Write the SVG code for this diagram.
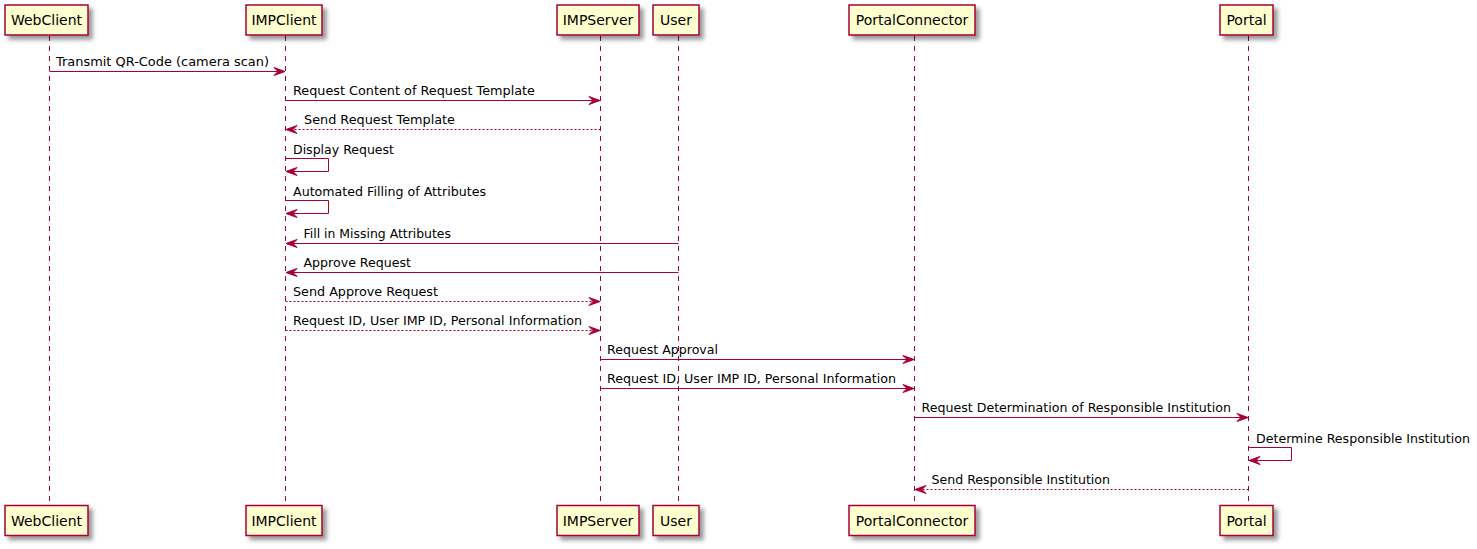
<svg xmlns="http://www.w3.org/2000/svg" width="1477" height="549" viewBox="0 0 1477 549">
<defs>
<filter id="sh" x="-1" y="-1" width="300%" height="300%">
<feGaussianBlur in="SourceAlpha" result="b" stdDeviation="2"/>
<feColorMatrix in="b" result="c" type="matrix" values="0 0 0 0 0 0 0 0 0 0 0 0 0 0 0 0 0 0 0.4 0"/>
<feOffset in="c" result="o" dx="4" dy="4"/>
<feBlend in="SourceGraphic" in2="o" mode="normal"/>
</filter>
<marker id="ah" viewBox="-1 -1 13 11" refX="11" refY="4.5" markerWidth="13" markerHeight="11" markerUnits="userSpaceOnUse" orient="auto">
<polygon points="0,0.5 11,4.5 0,8.5 4,4.5" fill="#A80036" stroke="#A80036" stroke-width="1" stroke-linejoin="miter"/>
</marker>
</defs>
<style>
.box{fill:#FEFECE;stroke:#A80036;stroke-width:1.5;filter:url(#sh)}
.pn{font-family:"DejaVu Sans",sans-serif;font-size:14px;fill:#000;text-anchor:middle}
.life{stroke:#A80036;stroke-width:1;stroke-dasharray:5,5;fill:none}
.msg{stroke:#A80036;stroke-width:1;fill:none;marker-end:url(#ah)}
.dash{stroke-dasharray:2,2}
.lbl{font-family:"DejaVu Sans",sans-serif;font-size:13px;fill:#000}
</style>
<rect width="1477" height="549" fill="#FFFFFF"/>
<g id="lifelines">
<line class="life" x1="49.5" y1="36" x2="49.5" y2="505"/>
<line class="life" x1="285.5" y1="36" x2="285.5" y2="505"/>
<line class="life" x1="600.5" y1="36" x2="600.5" y2="505"/>
<line class="life" x1="678.5" y1="36" x2="678.5" y2="505"/>
<line class="life" x1="914.5" y1="36" x2="914.5" y2="505"/>
<line class="life" x1="1248.5" y1="36" x2="1248.5" y2="505"/>
</g>
<g id="WebClient">
<rect class="box" x="5" y="5" width="83" height="30"/><text class="pn" x="46.5" y="25">WebClient</text>
<rect class="box" x="5" y="505.5" width="83" height="30"/><text class="pn" x="46.5" y="525.5">WebClient</text>
</g>
<g id="IMPClient">
<rect class="box" x="246" y="5" width="76" height="30"/><text class="pn" x="284" y="25">IMPClient</text>
<rect class="box" x="246" y="505.5" width="76" height="30"/><text class="pn" x="284" y="525.5">IMPClient</text>
</g>
<g id="IMPServer">
<rect class="box" x="557" y="5" width="82" height="30"/><text class="pn" x="598" y="25">IMPServer</text>
<rect class="box" x="557" y="505.5" width="82" height="30"/><text class="pn" x="598" y="525.5">IMPServer</text>
</g>
<g id="User">
<rect class="box" x="653" y="5" width="46" height="30"/><text class="pn" x="676" y="25">User</text>
<rect class="box" x="653" y="505.5" width="46" height="30"/><text class="pn" x="676" y="525.5">User</text>
</g>
<g id="PortalConnector">
<rect class="box" x="849" y="5" width="126" height="30"/><text class="pn" x="912" y="25">PortalConnector</text>
<rect class="box" x="849" y="505.5" width="126" height="30"/><text class="pn" x="912" y="525.5">PortalConnector</text>
</g>
<g id="Portal">
<rect class="box" x="1220" y="5" width="53" height="30"/><text class="pn" x="1246.5" y="25">Portal</text>
<rect class="box" x="1220" y="505.5" width="53" height="30"/><text class="pn" x="1246.5" y="525.5">Portal</text>
</g>
<g id="connectors">
<line class="msg" x1="49.5" y1="71.5" x2="285" y2="71.5"/>
<text class="lbl" x="56" y="66" textLength="213" lengthAdjust="spacingAndGlyphs">Transmit QR-Code (camera scan)</text>
<line class="msg" x1="285.5" y1="100.5" x2="600" y2="100.5"/>
<text class="lbl" x="293" y="95" textLength="242" lengthAdjust="spacingAndGlyphs">Request Content of Request Template</text>
<line class="msg dash" x1="600.5" y1="129.5" x2="286" y2="129.5"/>
<text class="lbl" x="304" y="124" textLength="151" lengthAdjust="spacingAndGlyphs">Send Request Template</text>
<polyline class="msg" points="286,158.5 328.5,158.5 328.5,171.5 286,171.5"/>
<text class="lbl" x="293" y="154" textLength="101" lengthAdjust="spacingAndGlyphs">Display Request</text>
<polyline class="msg" points="286,200.5 328.5,200.5 328.5,213.5 286,213.5"/>
<text class="lbl" x="293" y="196" textLength="193" lengthAdjust="spacingAndGlyphs">Automated Filling of Attributes</text>
<line class="msg" x1="678.5" y1="243.5" x2="286" y2="243.5"/>
<text class="lbl" x="303.5" y="238" textLength="147.5" lengthAdjust="spacingAndGlyphs">Fill in Missing Attributes</text>
<line class="msg" x1="678.5" y1="272.5" x2="286" y2="272.5"/>
<text class="lbl" x="303.5" y="267" textLength="107.5" lengthAdjust="spacingAndGlyphs">Approve Request</text>
<line class="msg dash" x1="285.5" y1="301.5" x2="600" y2="301.5"/>
<text class="lbl" x="293" y="296" textLength="145" lengthAdjust="spacingAndGlyphs">Send Approve Request</text>
<line class="msg dash" x1="285.5" y1="330.5" x2="600" y2="330.5"/>
<text class="lbl" x="293" y="325" textLength="289" lengthAdjust="spacingAndGlyphs">Request ID, User IMP ID, Personal Information</text>
<line class="msg" x1="600.5" y1="359.5" x2="914" y2="359.5"/>
<text class="lbl" x="607" y="354" textLength="111" lengthAdjust="spacingAndGlyphs">Request Approval</text>
<line class="msg" x1="600.5" y1="388.5" x2="914" y2="388.5"/>
<text class="lbl" x="607" y="383" textLength="289" lengthAdjust="spacingAndGlyphs">Request ID, User IMP ID, Personal Information</text>
<line class="msg" x1="914.5" y1="417.5" x2="1248" y2="417.5"/>
<text class="lbl" x="921.5" y="412" textLength="309.5" lengthAdjust="spacingAndGlyphs">Request Determination of Responsible Institution</text>
<polyline class="msg" points="1249,447.5 1291.5,447.5 1291.5,460.5 1249,460.5"/>
<text class="lbl" x="1256" y="443" textLength="214" lengthAdjust="spacingAndGlyphs">Determine Responsible Institution</text>
<line class="msg dash" x1="1248.5" y1="489.5" x2="915" y2="489.5"/>
<text class="lbl" x="931.5" y="484" textLength="178.5" lengthAdjust="spacingAndGlyphs">Send Responsible Institution</text>
</g>
</svg>
